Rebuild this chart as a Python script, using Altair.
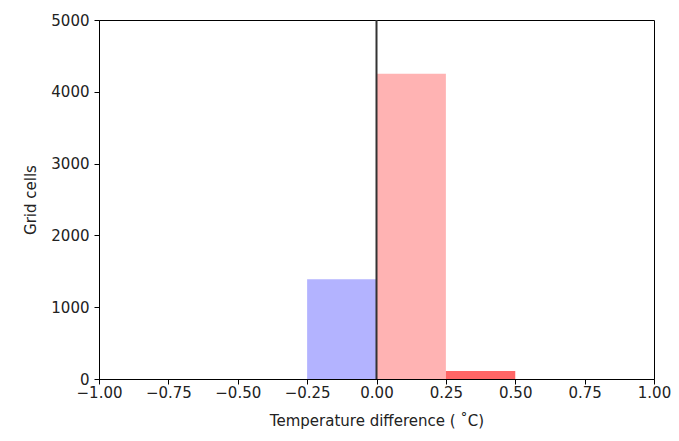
import altair as alt
import pandas as pd

bin_start = [-0.25, 0.0, 0.25]
bin_end = [0.0, 0.25, 0.5]
counts = [1390, 4250, 110]
colors = ["#b3b3ff", "#ffb3b3", "#ff6666"]
x_ticks = [-1.0, -0.75, -0.5, -0.25, 0.0, 0.25, 0.5, 0.75, 1.0]
y_ticks = [0, 1000, 2000, 3000, 4000, 5000]
zero_line = [0.0]

df = pd.DataFrame({"start": bin_start, "end": bin_end, "count": counts, "color": colors})
line_df = pd.DataFrame({"x": zero_line})

FONT = "DejaVu Sans"

x_scale = alt.Scale(domain=[-1, 1], nice=False, zero=False, padding=0)
y_scale = alt.Scale(domain=[0, 5000], nice=False, padding=0)

bars = alt.Chart(df).mark_bar(stroke=None, strokeWidth=0).encode(
    x=alt.X("start:Q", scale=x_scale,
            axis=alt.Axis(values=x_ticks, format=".2f", title="Temperature difference ( ˚C)",
                          grid=False, tickSize=5, labelPadding=1, titlePadding=13,
                          labelFlush=False, labelOverlap=False)),
    x2="end:Q",
    y=alt.Y("count:Q", scale=y_scale, stack=None,
            axis=alt.Axis(values=y_ticks, format="d", title="Grid cells",
                          grid=False, tickSize=5, labelPadding=5, titlePadding=12,
                          labelFlush=False, labelOverlap=False)),
    y2=alt.datum(0),
    color=alt.Color("color:N", scale=None),
)

vline = alt.Chart(line_df).mark_rule(color="#333333", strokeWidth=2).encode(
    x=alt.X("x:Q", scale=x_scale),
)

chart = alt.layer(bars, vline).properties(
    width=555, height=359,
    autosize=alt.AutoSizeParams(type="none"),
    padding={"left": 91, "top": 12, "right": 17, "bottom": 54},
).configure_view(
    stroke="black", strokeWidth=1
).configure_axis(
    domainColor="black", tickColor="black", labelColor="#222222", titleColor="#222222",
    labelFont=FONT, titleFont=FONT, labelFontSize=15, titleFontSize=15,
    titleFontWeight="normal", domainWidth=1, tickWidth=1,
)

chart.save("out.html", embed_options={"renderer": "svg", "actions": False})
